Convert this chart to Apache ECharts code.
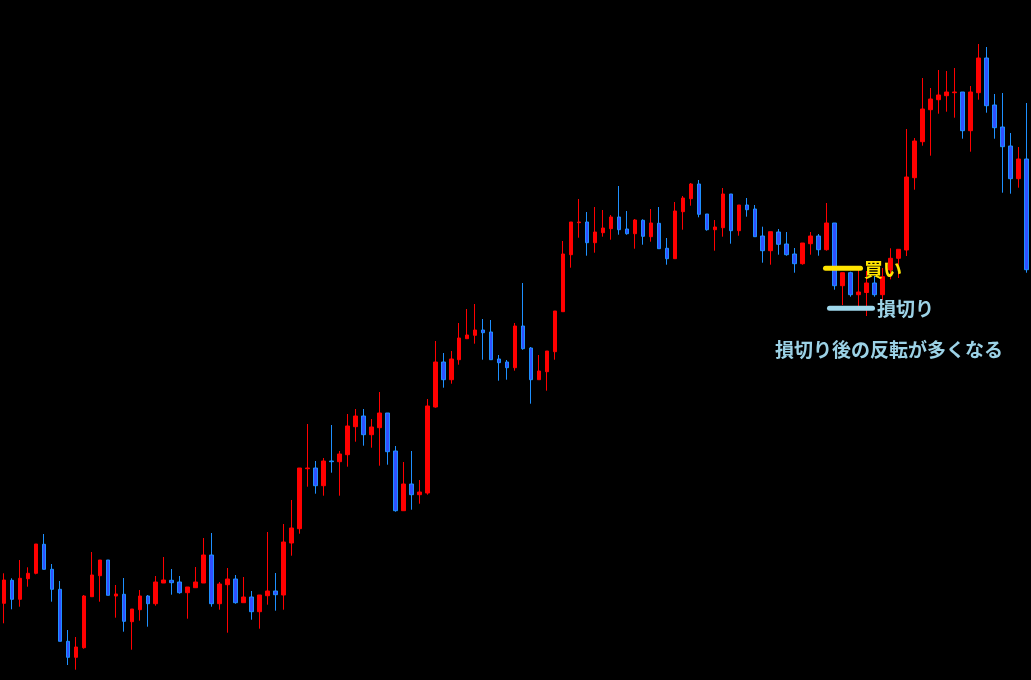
<!DOCTYPE html>
<html>
<head>
<meta charset="utf-8">
<script src="https://cdn.jsdelivr.net/npm/echarts@6/dist/echarts.min.js"></script>
<style>
html,body{margin:0;padding:0;background:#000;}
#chart{width:1031px;height:680px;}
</style>
</head>
<body>
<div id="chart"></div>
<script>
// Candle values (price units), index 0..128
const opens = [76.7,99.7,80.7,101.3,106.7,135.7,110.7,90.7,38.7,22.7,32.3,83.3,104.3,120,84,85.7,58.3,70.3,84,76.3,97,99.7,98,87.3,92.3,97,125,76.3,95.3,101,77.3,83,68.3,84.3,89,85,137,151.3,211.3,212,194.3,219,218.3,225.3,253.3,264,245.3,252.3,267,229,169.3,196,185.3,187,273,318,300.3,320.3,341.3,344.7,350,348,321,318,312.3,354,332,300.3,308.3,328.3,368.3,425.3,457.3,458,437.3,447.3,451.3,463,451,446.3,459.7,443.3,456.7,431.7,421.3,468.3,481.3,496,466,450.3,452.3,486,449.3,475,471,444,429.3,448,436,426,416.3,436.3,444,430.3,457,394.3,407.3,385.3,387.5,397,385.3,410,421.7,430,502.3,538.3,570.3,580.3,584.3,587.3,588,549.3,587.3,622,575,553,534,501.3,521];
const closes = [100,80.7,101.7,106.7,136,110.7,90.7,38.7,22.7,33,84,105,120,84.7,86,58.7,71,84,76.3,98,100,97.3,87.3,93,98,125,76.3,96,101,77.3,83,68.3,85,89,85.3,138,152,212,212,194.3,219,218.3,226,254,264,245.3,253,267,228.3,169.3,196,185.3,188,274,318,300.3,321,342,345,350,347.3,320.3,317.3,312.3,354,331.3,300.3,309,329,369,426,458,458,437.3,448,452,463,450.3,446.3,460,443.7,457,431.3,421.3,469,482,496,465.7,450.3,453,486,449.3,475,470.3,443.3,429.3,448.3,435.7,425.3,416.3,437,444,430.3,457,394.3,407.3,385.3,388,397,385.3,403.3,421.7,430.7,503,539,571,581,585,588,588,549.3,588,622,574.3,552.3,533.3,501.3,521,410.3];
const lows = [56.7,70.7,73.3,93.3,105.7,110.7,78.3,38.7,15,10.3,31.3,83.3,78.3,84.7,62.3,48.3,30.3,59.3,53.3,74.3,97,85.3,86.3,61.3,92.3,97,73.3,70.3,47.3,76.3,77.3,60.3,51.3,75.3,69.3,70.3,124.3,146.3,193.3,186.3,184.3,207.3,184.3,213.3,238.3,234.3,232.3,214.3,215.3,168.3,169.3,170.3,176.3,185.3,272.3,292.3,296.3,315.3,341.3,336.3,320.3,320.3,299.3,300.3,309.3,330.3,276.3,300.3,289.3,320.3,368.3,412.3,442.3,424.3,427.3,443.3,440.3,445.3,445.3,431.3,435.3,438.3,431.3,415.3,421.3,450.3,474.3,462.7,449.3,429.3,443.3,436.3,444.3,463.3,443.3,417.3,415.3,425.3,424.3,407.3,415.3,425.3,424.3,429.3,390.3,375,383.3,373.5,364,383.3,380,400.7,402,424,490.3,534.3,524.3,566.3,568.3,562.3,541.3,528.3,580.3,567.3,541.3,487.3,486.3,492.3,407.3];
const highs = [106.7,101.7,120,112.7,136,146,116,99,50,43,85,128,120,120,95,102,71,90,85,104,123,111,104,93,113,142,147,98,112,105,103,89,85,148,107,156,180,212,256,219,222,255,229,266,271,271,261,288,267,234,218,229,200,281,339,327,329,357,371,376,361,360,325,320,357,397,333,325,329,369,439,458,481,468,473,470,465,494,469,461,460.7,471,473,442,478,484,497,500,466,460,492,486,475,482,475,453.3,448.3,451,448,432,437,448,446,477,457,407.3,408.3,412,409,404,412,431.7,430.7,551,542,602,592,610,609,612,588,594,636,633,586,587,547,533,577];
const categories = opens.map((_, i) => String(i + 1));

// Annotation levels (price units) and labels
const entryPrice = 411.7;
const stopPrice = 371.7;
const entryLabel = '買い';
const stopLabel = '損切り';
const noteLabel = '損切り後の反転が多くなる';

const chart = echarts.init(document.getElementById('chart'));
const candleData = opens.map((o, i) => [o, closes[i], lows[i], highs[i]]);

chart.setOption({
  backgroundColor: '#000000',
  animation: false,
  grid: { left: -1.7, width: 1032, top: 0, height: 680, containLabel: false },
  xAxis: { type: 'category', data: categories, show: false, boundaryGap: true },
  yAxis: { type: 'value', min: 0, max: 680, show: false, scale: false },
  series: [{
    type: 'candlestick',
    data: candleData,
    barWidth: 4,
    itemStyle: {
      color: '#FF0000',
      borderColor: '#FF0000',
      color0: '#3050FF',
      borderColor0: '#1E90FF',
      borderWidth: 1
    }
  }]
});

const yEntry = chart.convertToPixel({ yAxisIndex: 0 }, entryPrice);
const yStop = chart.convertToPixel({ yAxisIndex: 0 }, stopPrice);
const font = 'bold 19px "Noto Sans CJK JP", sans-serif';

chart.setOption({
  graphic: [
    { type: 'line', shape: { x1: 825.5, y1: yEntry, x2: 860.5, y2: yEntry },
      style: { stroke: '#FFE400', lineWidth: 5, lineCap: 'round' }, z: 100 },
    { type: 'line', shape: { x1: 829.5, y1: yStop, x2: 872.5, y2: yStop },
      style: { stroke: '#9FD8EC', lineWidth: 5, lineCap: 'round' }, z: 100 },
    { type: 'text', x: 864, y: yEntry + 1, z: 100,
      style: { text: entryLabel, font: font, fill: '#FFE400', textVerticalAlign: 'middle', verticalAlign: 'middle' } },
    { type: 'text', x: 877, y: yStop, z: 100,
      style: { text: stopLabel, font: font, fill: '#9CD2E6', textVerticalAlign: 'middle', verticalAlign: 'middle' } },
    { type: 'text', x: 775, y: 350, z: 100,
      style: { text: noteLabel, font: font, fill: '#9CD2E6', textVerticalAlign: 'middle', verticalAlign: 'middle' } }
  ]
});
</script>
</body>
</html>
